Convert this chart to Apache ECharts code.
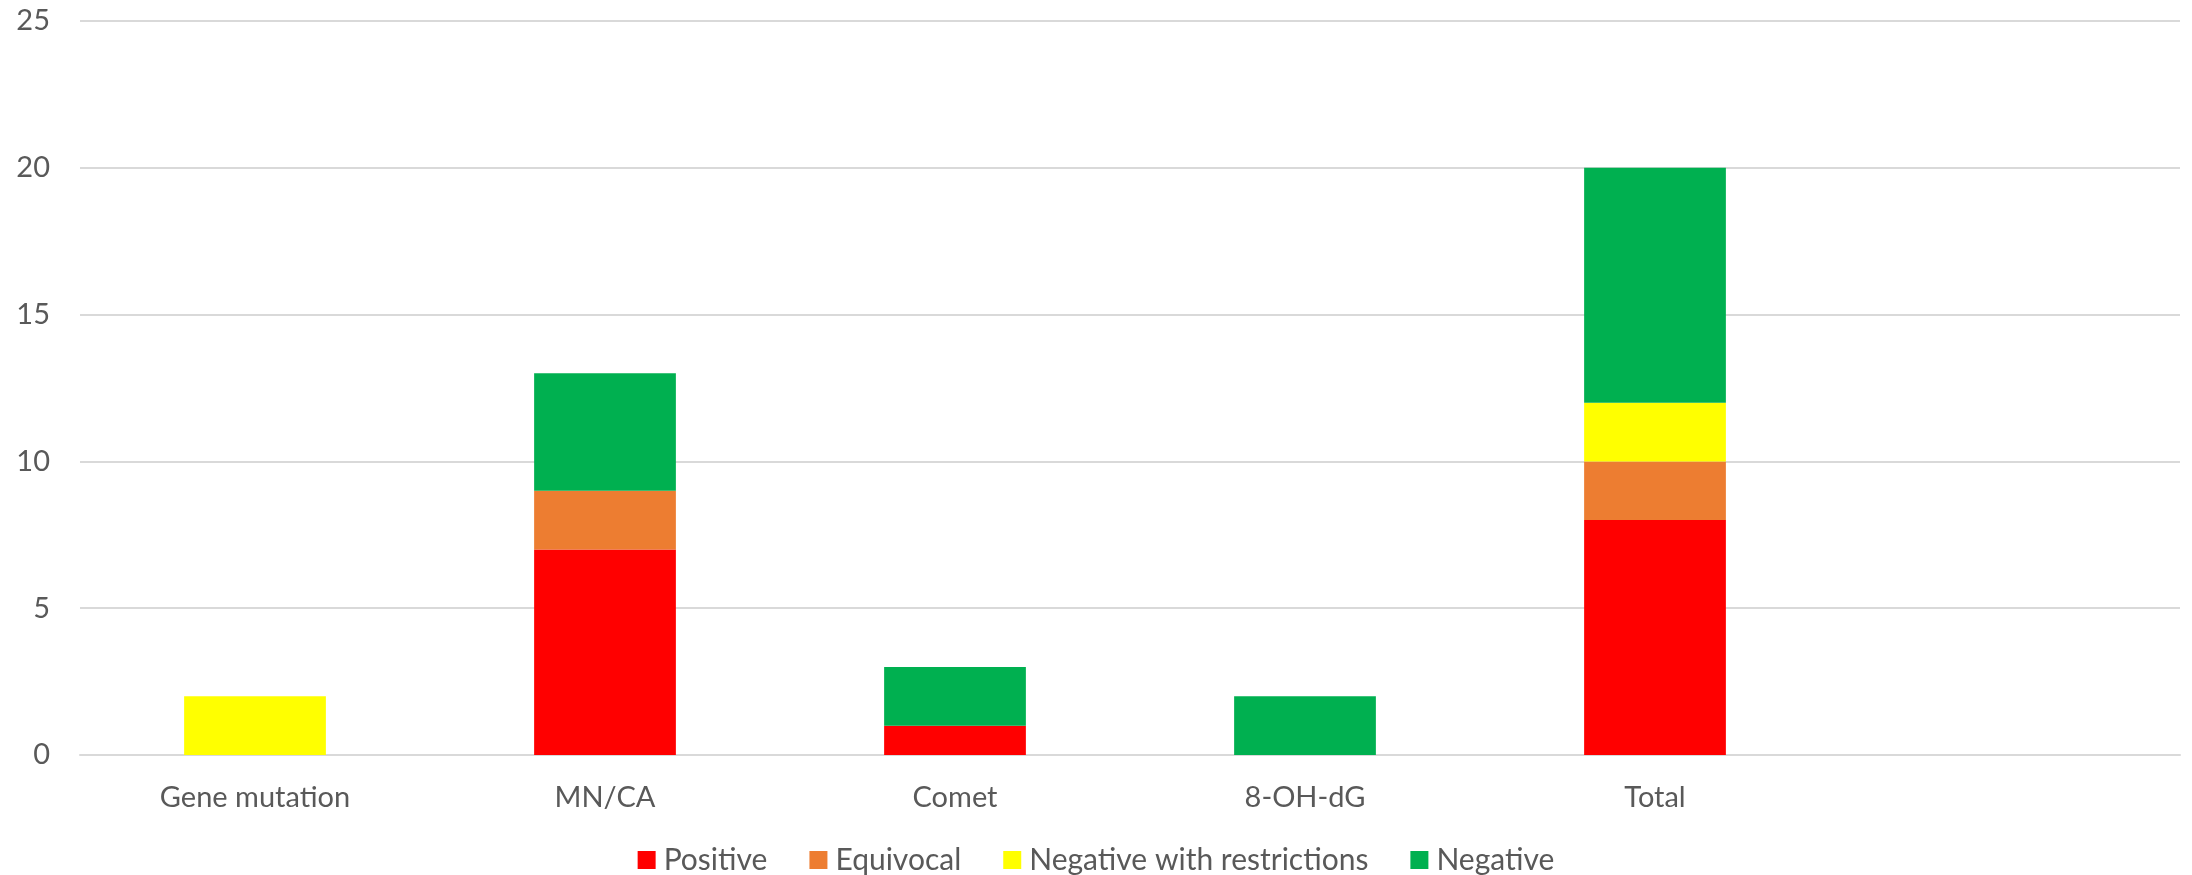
<!DOCTYPE html>
<html>
<head>
<meta charset="utf-8">
<script src="https://cdn.jsdelivr.net/npm/echarts@6/dist/echarts.min.js"></script>
<style>
  html, body { margin: 0; padding: 0; background: #ffffff; }
  #chart { width: 2192px; height: 875px; }
</style>
</head>
<body>
<div id="chart"></div>
<script>
// Test categories (the last slot is left empty)
const categories = ['Gene mutation', 'MN/CA', 'Comet', '8-OH-dG', 'Total', ''];

// Number of results per outcome
const positive = [0, 7, 1, 0, 8, null];
const equivocal = [0, 2, 0, 0, 2, null];
const negativeRestricted = [2, 0, 0, 0, 2, null];
const negative = [0, 4, 2, 2, 8, null];

const seriesNames = ['Positive', 'Equivocal', 'Negative with restrictions', 'Negative'];
const seriesColors = ['#FF0000', '#ED7D31', '#FFFF00', '#00B050'];
const seriesValues = [positive, equivocal, negativeRestricted, negative];

const yTicks = { min: 0, max: 25, interval: 5 };

const FONT = 'Lato';
const TEXT = '#595959';
const GRID = '#d9d9d9';

const chart = echarts.init(document.getElementById('chart'), null, { renderer: 'canvas' });

chart.setOption({
  animation: false,
  backgroundColor: '#ffffff',
  textStyle: { fontFamily: FONT },
  grid: { left: 80, right: 12, top: 21, bottom: 120 },
  legend: {
    top: 840,
    left: 'center',
    itemWidth: 18,
    itemHeight: 18,
    itemGap: 42,
    icon: 'rect',
    textStyle: { color: TEXT, fontSize: 30, fontFamily: FONT, padding: [0, 0, 0, 3] },
    data: seriesNames
  },
  xAxis: {
    type: 'category',
    data: categories,
    axisLine: { show: true, lineStyle: { color: GRID, width: 2 } },
    axisTick: { show: false },
    axisLabel: { color: TEXT, fontSize: 29, fontFamily: FONT, margin: 28 }
  },
  yAxis: {
    type: 'value',
    min: yTicks.min,
    max: yTicks.max,
    interval: yTicks.interval,
    axisLine: { show: false },
    axisTick: { show: false },
    axisLabel: { color: TEXT, fontSize: 29, fontFamily: FONT, margin: 30 },
    splitLine: { show: true, lineStyle: { color: GRID, width: 2 } }
  },
  series: seriesNames.map((name, i) => ({
    name,
    type: 'bar',
    stack: 'total',
    barWidth: '40.5%',
    data: seriesValues[i],
    itemStyle: { color: seriesColors[i] }
  }))
});
</script>
</body>
</html>
